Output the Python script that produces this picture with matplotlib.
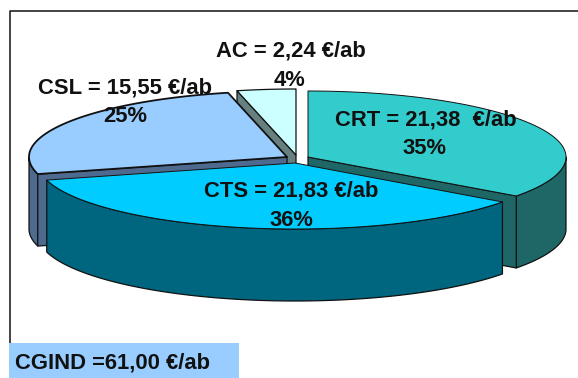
import numpy as np
import matplotlib
matplotlib.use("Agg")
import matplotlib.pyplot as plt

plt.rcParams["font.family"] = ["Liberation Sans", "DejaVu Sans"]

# valeurs en euros par abonne
categories = ["CRT", "CTS", "CSL", "AC"]
values = [21.38, 21.83, 15.55, 2.24]
value_labels = ["21,38  €/ab", "21,83 €/ab", "15,55 €/ab", "2,24 €/ab"]
percent_labels = ["35%", "36%", "25%", "4%"]
total_label = "CGIND =61,00 €/ab"

top_colors = ["#33CCCC", "#00CCFF", "#99CCFF", "#CCFFFF"]
side_colors = ["#1F6666", "#006680", "#4F6A8F", "#668080"]
centers = [(308, 157), (295, 163), (287, 157), (296, 155)]
radii = [258, 257, 258, 258]
label_pos = [(426, 120), (291, 191), (125, 88), (291, 51)]
pct_pos = [(425, 149), (291, 220), (125, 117), (290, 81)]

RY, DEPTH = 66, 72
LINE = "#111111"
FONT = 15.8


def rim(i, a0, a1):
    c = centers[i]
    t = np.radians(np.linspace(a0, a1, 80))
    return np.column_stack([c[0] + radii[i] * np.cos(t), c[1] - RY * np.sin(t)])


def down(pts):
    return (pts + [0, DEPTH])[::-1]


fig = plt.figure(figsize=(5.78, 3.78), dpi=100)
ax = fig.add_axes([0, 0, 1, 1])
ax.set_xlim(0, 578)
ax.set_ylim(378, 0)
ax.axis("off")

# angles des parts, sens horaire a partir de 90 degres
sweep = 360 * np.array(values) / sum(values)
ends = 90 - np.cumsum(sweep)
starts = ends + sweep
idx = {n: i for i, n in enumerate(categories)}


def poly(pts, color, lw=0.9):
    ax.fill(pts[:, 0], pts[:, 1], facecolor=color, edgecolor=LINE, linewidth=lw, joinstyle="round")


def top(name, lw=0.9):
    i = idx[name]
    poly(np.vstack([[centers[i]], rim(i, starts[i], ends[i])]), top_colors[i], lw)


def cut_wall(name, angle):
    # face plane entre le centre et le bord
    i = idx[name]
    edge = np.vstack([[centers[i]], rim(i, angle, angle)[:1]])
    poly(np.vstack([edge, down(edge)]), side_colors[i])


def rim_wall(name, a0, a1):
    i = idx[name]
    edge = rim(i, a0, a1)
    poly(np.vstack([edge, down(edge)]), side_colors[i])


# de l'arriere vers l'avant
cut_wall("AC", starts[idx["AC"]])
top("AC")

rim_wall("CSL", starts[idx["CSL"]], -180)
cut_wall("CSL", starts[idx["CSL"]])
top("CSL", 1.3)

rim_wall("CRT", ends[idx["CRT"]], 0)
cut_wall("CRT", ends[idx["CRT"]])
top("CRT", 0.7)

rim_wall("CTS", starts[idx["CTS"]], ends[idx["CTS"]])
top("CTS", 0.7)

for i, name in enumerate(categories):
    ax.text(*label_pos[i], f"{name} = {value_labels[i]}", ha="center", va="center",
            fontsize=FONT, fontweight="bold", color="#111111")
    ax.text(*pct_pos[i], percent_labels[i], ha="center", va="center",
            fontsize=FONT, fontweight="bold", color="#111111")

# cadre et total
ax.plot([9.5, 9.5, 578], [343, 10.5, 10.5], color="#111111", linewidth=1.1, solid_capstyle="butt")
ax.fill_between([9, 239], 343, 378, color="#99CCFF", linewidth=0)
ax.text(15, 363, total_label, ha="left", va="center",
        fontsize=FONT, fontweight="bold", color="#111111")

fig.savefig("out.png", dpi=100)
